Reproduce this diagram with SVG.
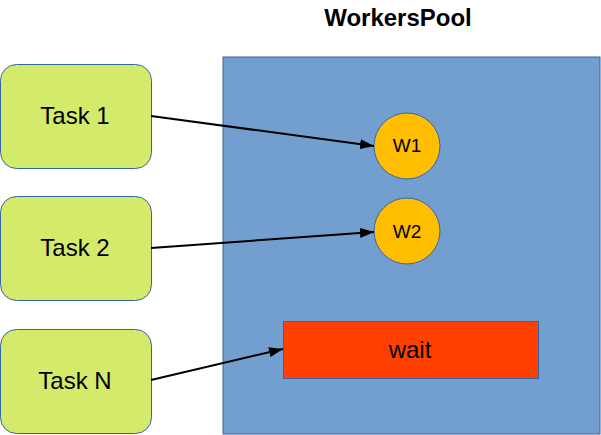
<svg xmlns="http://www.w3.org/2000/svg" width="601" height="435" viewBox="0 0 601 435">
<defs>
<style>
.task{fill:#d4ea6b;stroke:#3465a4;stroke-width:1}
.lbl{font-family:"Liberation Sans",Arial,sans-serif;fill:#000;text-anchor:middle}
.w{fill:#ffbf00;stroke:#3465a4;stroke-width:1}
.conn{stroke:#000;stroke-width:2;fill:none;marker-end:url(#arr)}
</style>
<marker id="arr" viewBox="0 0 10 10" refX="10" refY="5" markerWidth="14" markerHeight="10" markerUnits="userSpaceOnUse" orient="auto" preserveAspectRatio="none">
<path d="M0,0 L10,5 L0,10 z" fill="#000"/>
</marker>
</defs>
<rect width="601" height="435" fill="#fff"/>
<g id="pool">
<rect x="223" y="57" width="377" height="377" fill="#729fcf" stroke="#3465a4"/>
<text class="lbl" x="398" y="26" font-size="24" font-weight="bold">WorkersPool</text>
</g>
<g id="task1">
<rect class="task" x="0.5" y="64.5" width="151" height="104" rx="16"/>
<text class="lbl" x="75" y="124" font-size="24">Task 1</text>
</g>
<g id="task2">
<rect class="task" x="0.5" y="196.5" width="151" height="104" rx="16"/>
<text class="lbl" x="75" y="256" font-size="24">Task 2</text>
</g>
<g id="taskN">
<rect class="task" x="0.5" y="329.5" width="151" height="104" rx="16"/>
<text class="lbl" x="75" y="389" font-size="24">Task N</text>
</g>
<g id="w1">
<circle class="w" cx="407" cy="146" r="33"/>
<text class="lbl" x="407" y="152" font-size="19">W1</text>
</g>
<g id="w2">
<circle class="w" cx="407" cy="231" r="33"/>
<text class="lbl" x="407" y="238" font-size="19">W2</text>
</g>
<g id="wait">
<rect x="283.5" y="321.5" width="255" height="57" fill="#ff4000" stroke="#3465a4"/>
<text class="lbl" x="410" y="358" font-size="24">wait</text>
</g>
<g id="connectors">
<line class="conn" x1="151" y1="116" x2="374" y2="146"/>
<line class="conn" x1="151" y1="248" x2="374" y2="232"/>
<line class="conn" x1="151" y1="380" x2="283" y2="349"/>
</g>
</svg>
